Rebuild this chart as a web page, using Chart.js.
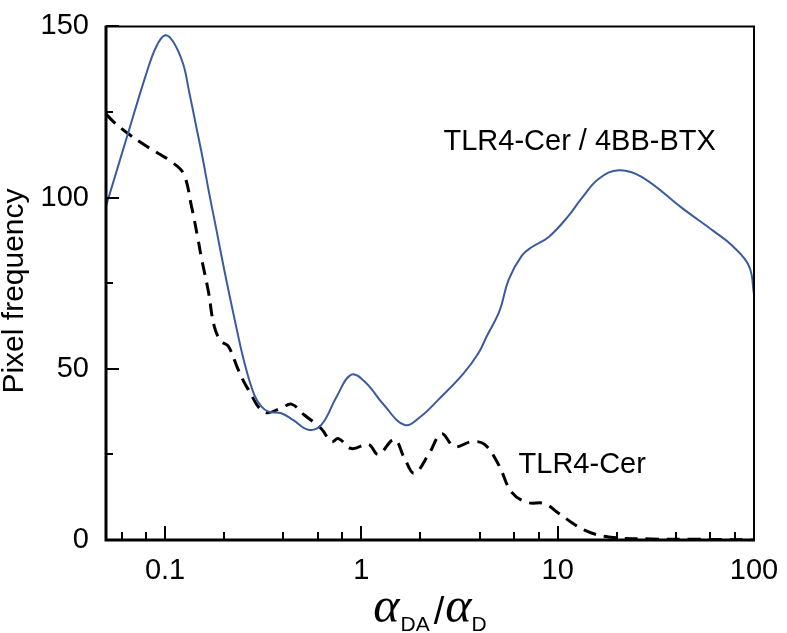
<!DOCTYPE html>
<html>
<head>
<meta charset="utf-8">
<script src="https://cdn.jsdelivr.net/npm/chart.js@4"></script>
<style>
  html, body { margin: 0; padding: 0; background: #fff; }
  #wrap { width: 787px; height: 633px; }
</style>
</head>
<body>
<div id="wrap"><canvas id="freqChart" width="787" height="633"></canvas></div>
<script>
// TLR4-Cer / 4BB-BTX (blue, solid)
const bttxX = [0.05, 0.0647, 0.08, 0.09, 0.1, 0.11, 0.1236, 0.1325, 0.1438, 0.156, 0.1675, 0.182, 0.2, 0.225, 0.253, 0.284,
               0.309, 0.336, 0.391, 0.45, 0.537, 0.625, 0.75, 0.889, 1.05, 1.3, 1.66, 2.0, 2.47, 3.3, 3.95, 4.35, 5.06,
               5.62, 6.55, 7.36, 9.0, 11.4, 13.2, 16.2, 20.5, 26.9, 42.9, 63, 77.3, 94.3, 100];
const bttxY = [97.5, 118.7, 136, 144, 147.4, 145.5, 139, 131, 121, 111, 101.4, 91, 79, 65, 52, 42.5,
               39, 37.5, 37, 35, 32.2, 33.6, 42, 48.3, 46, 39.5, 33.6, 36, 41, 48.5, 54.6, 59.5, 67,
               76, 83, 85.5, 88.5, 94.8, 99.7, 105.5, 108, 106, 97, 90, 86, 80, 71.8];

// TLR4-Cer (black, dashed)
const cerX = [0.05, 0.055, 0.0647, 0.078, 0.095, 0.107, 0.124, 0.136, 0.147, 0.153, 0.166, 0.178, 0.193, 0.21, 0.236, 0.265,
              0.32, 0.391, 0.44, 0.512, 0.625, 0.703, 0.764, 0.889, 1.086, 1.22, 1.47, 1.66, 1.86, 2.2, 2.56, 2.98,
              3.64, 4.24, 5.0, 5.82, 7.0, 8.6, 10.1, 13.7, 18.2, 30, 52, 100];
const cerY = [124.4, 122, 118.7, 115.5, 112.5, 110.6, 107, 97.7, 88, 82.5, 72.7, 62.4, 58, 56.6, 49.7, 44,
              37.4, 38.5, 39.7, 36.5, 32.5, 28.7, 29.6, 26.7, 27.9, 25, 29.3, 23.8, 19.5, 25, 31, 27.3,
              28.7, 27.9, 22, 14, 11, 10.6, 7.8, 2.9, 0.9, 0.3, 0.2, 0];

// axis ticks
const xTickValues = [0.06, 0.08, 0.1, 0.2, 0.4, 0.6, 0.8, 1, 2, 4, 6, 8, 10, 20, 40, 60, 80, 100];
const xMajorTicks = [0.1, 1, 10, 100];
const xTickLabels = ["0.1", "1", "10", "100"];
const yMajorTicks = [0, 50, 100, 150];
const yTickLabels = ["0", "50", "100", "150"];

const seriesLabels = ["TLR4-Cer / 4BB-BTX", "TLR4-Cer"];
const yTitle = "Pixel frequency";

const sans = "'Liberation Sans', Arial, Helvetica, sans-serif";
const serif = "'Liberation Serif', 'Times New Roman', serif";

function toPoints(xs, ys) {
    return xs.map((x, i) => ({ x: x, y: ys[i] }));
}

// frame, inward ticks, axis titles and curve labels
const decorations = {
    id: "decorations",
    afterDraw(chart) {
        const { ctx, chartArea: a, scales: { x, y } } = chart;
        ctx.save();
        ctx.strokeStyle = "#000";
        ctx.lineCap = "butt";

        ctx.lineWidth = 2;
        ctx.beginPath();
        ctx.moveTo(a.left, a.top);
        ctx.lineTo(a.right, a.top);
        ctx.lineTo(a.right, a.bottom);
        ctx.stroke();

        ctx.lineWidth = 3;
        ctx.beginPath();
        ctx.moveTo(a.left, a.top - 1);
        ctx.lineTo(a.left, a.bottom);
        ctx.lineTo(a.right + 1, a.bottom);
        ctx.stroke();

        ctx.lineWidth = 2;
        ctx.beginPath();
        x.ticks.forEach(t => {
            const px = Math.round(x.getPixelForValue(t.value));
            const len = xMajorTicks.includes(t.value) ? 14 : 8;
            ctx.moveTo(px, a.bottom);
            ctx.lineTo(px, a.bottom - len);
        });
        y.ticks.forEach(t => {
            const py = Math.round(y.getPixelForValue(t.value));
            const len = yMajorTicks.includes(t.value) ? 13 : 7;
            ctx.moveTo(a.left, py);
            ctx.lineTo(a.left + len, py);
        });
        ctx.stroke();

        ctx.fillStyle = "#000";

        // y-axis title
        ctx.save();
        ctx.translate(15, 291);
        ctx.rotate(-Math.PI / 2);
        ctx.font = "30px " + sans;
        ctx.textAlign = "center";
        ctx.textBaseline = "middle";
        ctx.fillText(yTitle, 0, 0);
        ctx.restore();

        // x-axis title: alpha_DA / alpha_D
        ctx.textBaseline = "alphabetic";
        ctx.textAlign = "left";
        const parts = [
            { t: "α", f: "italic 50px " + serif, dy: 0, gap: 0 },
            { t: "DA", f: "21px " + sans, dy: 9, gap: 1 },
            { t: "/", f: "38px " + sans, dy: 2, gap: 4 },
            { t: "α", f: "italic 50px " + serif, dy: 0, gap: 1 },
            { t: "D", f: "21px " + sans, dy: 9, gap: 0 }
        ];
        let total = 0;
        parts.forEach(p => { ctx.font = p.f; p.w = ctx.measureText(p.t).width; total += p.w + p.gap; });
        let cx = (a.left + a.right) / 2 - total / 2;
        const base = 622;
        parts.forEach(p => {
            ctx.font = p.f;
            cx += p.gap;
            ctx.fillText(p.t, cx, base + p.dy);
            cx += p.w;
        });

        // curve labels
        ctx.font = "29px " + sans;
        ctx.fillText(seriesLabels[0], x.getPixelForValue(2.62), y.getPixelForValue(114));
        ctx.fillText(seriesLabels[1], x.getPixelForValue(6.32), y.getPixelForValue(19.5));
        ctx.restore();
    }
};

new Chart(document.getElementById("freqChart"), {
    type: "line",
    data: {
        datasets: [
            {
                label: seriesLabels[0],
                data: toPoints(bttxX, bttxY),
                borderColor: "#3b5ba0",
                borderWidth: 2,
                pointRadius: 0,
                fill: false,
                tension: 0.4
            },
            {
                label: seriesLabels[1],
                data: toPoints(cerX, cerY),
                borderColor: "#000",
                borderWidth: 3,
                borderDash: [13, 8],
                pointRadius: 0,
                fill: false,
                tension: 0.4
            }
        ]
    },
    options: {
        responsive: false,
        animation: false,
        layout: { padding: { top: 18, right: 33, left: 0, bottom: 0 } },
        plugins: {
            legend: { display: false },
            tooltip: { enabled: false }
        },
        scales: {
            x: {
                type: "logarithmic",
                min: 0.05,
                max: 100,
                grid: { display: false },
                border: { display: false },
                afterBuildTicks: s => { s.ticks = xTickValues.map(v => ({ value: v })); },
                afterFit: s => { s.height = 93; },
                ticks: {
                    autoSkip: false,
                    maxRotation: 0,
                    padding: 6,
                    color: "#000",
                    font: { family: sans, size: 29 },
                    callback: v => {
                        const i = xMajorTicks.indexOf(v);
                        return i >= 0 ? xTickLabels[i] : "";
                    }
                }
            },
            y: {
                min: 0,
                max: 150,
                grid: { display: false },
                border: { display: false },
                afterFit: s => { s.width = 106; },
                ticks: {
                    stepSize: 25,
                    autoSkip: false,
                    padding: 9,
                    color: "#000",
                    font: { family: sans, size: 29 },
                    callback: v => {
                        const i = yMajorTicks.indexOf(v);
                        return i >= 0 ? yTickLabels[i] : "";
                    }
                }
            }
        }
    },
    plugins: [decorations]
});
</script>
</body>
</html>
